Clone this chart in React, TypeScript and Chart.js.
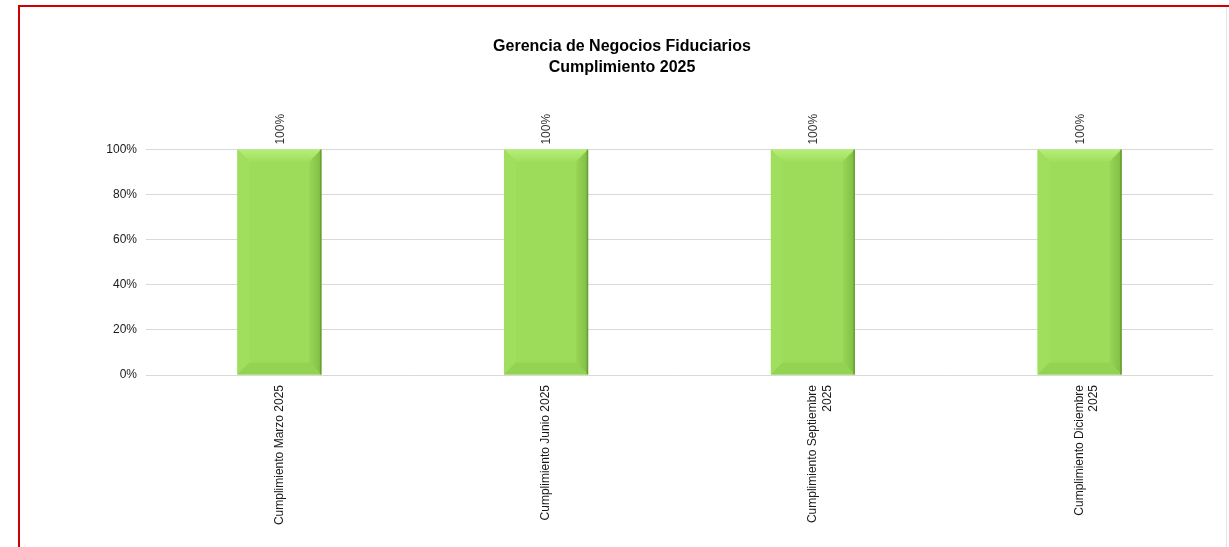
import React, { useEffect, useRef } from "react";
import { Chart, registerables } from "chart.js";

Chart.register(...registerables);

const titleLines = ["Gerencia de Negocios Fiduciarios", "Cumplimiento 2025"];
const categories: (string | string[])[] = [
  "Cumplimiento Marzo 2025",
  "Cumplimiento Junio 2025",
  ["Cumplimiento Septiembre", "2025"],
  ["Cumplimiento Diciembre", "2025"],
];
const values = [1, 1, 1, 1];
const valueLabels = ["100%", "100%", "100%", "100%"];

const FONT = "'Liberation Sans', Arial, sans-serif";

const bevelPlugin = {
  id: "bevelBars",
  afterDatasetsDraw(chart: any) {
    const ctx = chart.ctx;
    const meta = chart.getDatasetMeta(0);
    meta.data.forEach((bar: any, i: number) => {
      const w = bar.width;
      const l = bar.x - w / 2;
      const r = bar.x + w / 2;
      const t = Math.min(bar.y, bar.base);
      const b = Math.max(bar.y, bar.base);
      const bv = 12;
      ctx.save();
      // top bevel
      ctx.beginPath();
      ctx.moveTo(l, t);
      ctx.lineTo(r, t);
      ctx.lineTo(r - bv, t + bv);
      ctx.lineTo(l + bv, t + bv);
      ctx.closePath();
      const gt = ctx.createLinearGradient(0, t, 0, t + bv);
      gt.addColorStop(0, "#b6ee78");
      gt.addColorStop(1, "#a0df5e");
      ctx.fillStyle = gt;
      ctx.fill();
      // left bevel
      ctx.beginPath();
      ctx.moveTo(l, t);
      ctx.lineTo(l + bv, t + bv);
      ctx.lineTo(l + bv, b - bv);
      ctx.lineTo(l, b);
      ctx.closePath();
      ctx.fillStyle = "#a0de5e";
      ctx.fill();
      // right bevel
      ctx.beginPath();
      ctx.moveTo(r, t);
      ctx.lineTo(r - bv, t + bv);
      ctx.lineTo(r - bv, b - bv);
      ctx.lineTo(r, b);
      ctx.closePath();
      const gr = ctx.createLinearGradient(r - bv, 0, r, 0);
      gr.addColorStop(0, "#97d655");
      gr.addColorStop(1, "#80bd44");
      ctx.fillStyle = gr;
      ctx.fill();
      // bottom bevel
      ctx.beginPath();
      ctx.moveTo(l, b);
      ctx.lineTo(l + bv, b - bv);
      ctx.lineTo(r - bv, b - bv);
      ctx.lineTo(r, b);
      ctx.closePath();
      ctx.fillStyle = "#93d352";
      ctx.fill();
      // right edge line
      ctx.fillStyle = "#6a9f37";
      ctx.fillRect(r - 1.5, t, 1.5, b - t);
      // value label
      ctx.translate(bar.x, t - 5);
      ctx.rotate(-Math.PI / 2);
      ctx.fillStyle = "#333333";
      ctx.font = `12px ${FONT}`;
      ctx.textAlign = "left";
      ctx.textBaseline = "middle";
      ctx.fillText(valueLabels[i], 0, 1);
      ctx.restore();
    });
  },
};

export default function App() {
  const ref = useRef<HTMLCanvasElement>(null);
  useEffect(() => {
    if (!ref.current) return;
    const chart = new Chart(ref.current, {
      type: "bar",
      data: {
        labels: categories as any,
        datasets: [
          {
            data: values,
            backgroundColor: "#9cdc5a",
            borderWidth: 0,
            barPercentage: 0.315,
            categoryPercentage: 1,
          },
        ],
      },
      options: {
        responsive: false,
        animation: false,
        layout: { padding: { left: 31, right: 16, top: 24, bottom: 0 } },
        plugins: {
          legend: { display: false },
          tooltip: { enabled: false },
          title: {
            display: true,
            text: titleLines,
            color: "#000000",
            font: { family: FONT, size: 16, weight: "bold", lineHeight: 1.3 },
            padding: { top: 12, bottom: 72 },
          },
        },
        scales: {
          x: {
            grid: { display: false, drawTicks: false },
            border: { display: false },
            ticks: {
              autoSkip: false,
              minRotation: 90,
              maxRotation: 90,
              padding: 10,
              color: "#1a1a1a",
              font: { family: FONT, size: 12, lineHeight: 1.2 },
            },
            afterFit(scale: any) {
              scale.height = 547 - 375;
            },
          },
          y: {
            min: 0,
            max: 1,
            grid: { color: "#d9d9d9", drawTicks: false, lineWidth: 1 },
            border: { display: false },
            ticks: {
              stepSize: 0.2,
              padding: 9,
              color: "#1a1a1a",
              font: { family: FONT, size: 12 },
              callback: (v: any) => `${Math.round(Number(v) * 100)}%`,
            },
            afterFit(scale: any) {
              scale.width = 146 - 31;
            },
          },
        },
      },
      plugins: [bevelPlugin],
    });
    return () => chart.destroy();
  }, []);

  return (
    <div style={{ position: "fixed", left: 0, top: 0, width: 1229, height: 547, background: "#ffffff", overflow: "hidden" }}>
      <div
        style={{
          position: "absolute",
          left: 18,
          top: 5,
          width: 1240,
          height: 600,
          borderLeft: "2px solid #d00000",
          borderTop: "2px solid #d00000",
          boxSizing: "border-box",
        }}
      />
      <div style={{ position: "absolute", left: 1226, top: 7, width: 1, height: 540, background: "#e6e6e6" }} />
      <canvas ref={ref} width={1229} height={547} style={{ position: "absolute", left: 0, top: 0 }} />
    </div>
  );
}
